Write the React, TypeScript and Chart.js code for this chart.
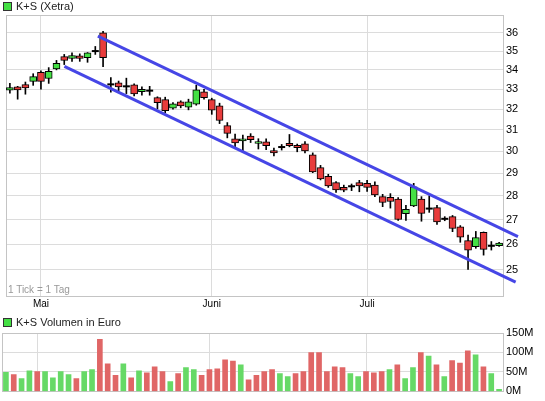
import React, { useEffect, useRef } from 'react';
import { Chart, registerables } from 'chart.js';

Chart.register(...registerables);

// ---- data ----
const opens = [32.96, 33.12, 33.24, 33.4, 33.87, 33.55, 34.05, 34.7, 34.6, 34.75, 34.65, 35.0, 36.0, 33.25, 33.33, 33.15, 33.23, 32.88, 32.93, 32.58, 32.48, 32.05, 32.37, 32.1, 32.25, 32.87, 32.48, 32.17, 31.2, 30.58, 30.48, 30.7, 30.36, 30.43, 30.03, 30.19, 30.36, 30.27, 30.34, 29.83, 29.25, 28.86, 28.58, 28.37, 28.42, 28.58, 28.55, 28.47, 27.97, 27.94, 27.86, 27.24, 27.57, 27.86, 27.46, 27.5, 27.03, 27.12, 26.7, 26.14, 25.89, 26.47, 25.93, 25.93];
const highs = [33.3, 33.15, 33.37, 33.8, 33.95, 34.12, 34.5, 34.82, 34.9, 34.85, 34.92, 35.25, 36.08, 33.6, 33.42, 33.57, 33.28, 33.12, 33.15, 32.62, 32.6, 32.33, 32.42, 32.5, 33.2, 33.0, 32.55, 32.3, 31.35, 30.8, 30.75, 30.82, 30.58, 30.58, 30.14, 30.31, 30.78, 30.33, 30.44, 29.92, 29.35, 28.95, 28.63, 28.47, 28.52, 28.68, 28.68, 28.62, 28.07, 28.1, 27.93, 27.6, 28.55, 27.97, 28.0, 27.6, 27.12, 27.17, 26.75, 26.36, 26.51, 26.49, 26.1, 26.07];
const lows = [32.8, 32.5, 32.75, 33.2, 33.0, 33.3, 34.0, 34.28, 34.45, 34.45, 34.4, 34.82, 34.17, 32.85, 32.87, 32.78, 32.67, 32.7, 32.7, 32.02, 31.83, 32.0, 32.07, 31.97, 32.2, 32.5, 31.75, 31.3, 30.62, 30.17, 29.98, 30.4, 30.1, 30.07, 29.78, 30.05, 30.2, 29.97, 29.92, 29.02, 28.7, 28.37, 28.15, 28.18, 28.23, 28.18, 28.2, 27.97, 27.54, 27.48, 26.96, 26.96, 27.54, 26.93, 27.3, 26.8, 26.95, 26.5, 26.07, 25.0, 25.83, 25.56, 25.76, 25.9];
const closes = [33.08, 32.97, 33.07, 33.65, 33.4, 33.92, 34.35, 34.5, 34.76, 34.6, 34.9, 35.0, 34.65, 33.25, 33.12, 33.15, 32.77, 33.0, 32.93, 32.33, 31.93, 32.27, 32.17, 32.37, 32.97, 32.57, 31.95, 31.45, 30.83, 30.38, 30.58, 30.53, 30.44, 30.25, 29.92, 30.19, 30.25, 30.16, 30.01, 29.06, 28.74, 28.43, 28.26, 28.25, 28.42, 28.44, 28.37, 28.04, 27.72, 27.76, 27.0, 27.43, 28.39, 27.26, 27.46, 26.9, 27.03, 26.63, 26.28, 25.76, 26.26, 25.79, 25.93, 26.04];
const volumes = [49, 43, 33, 53, 51, 51, 35, 51, 43, 33, 51, 56, 134, 71, 41, 71, 35, 53, 48, 63, 51, 25, 46, 61, 56, 41, 56, 58, 81, 78, 68, 30, 41, 51, 56, 46, 38, 46, 51, 100, 100, 51, 63, 61, 46, 38, 51, 48, 51, 56, 68, 33, 61, 100, 91, 68, 38, 79, 73, 104, 94, 63, 46, 5];
const monthLabels = ['Mai', 'Juni', 'Juli'];
const monthIndex = [4, 26, 46];
const priceTicks = [25, 26, 27, 28, 29, 30, 31, 32, 33, 34, 35, 36];
const volumeTicks = [0, 50, 100, 150];
const upperChannel = [{ x: 11.33, y: 35.82 }, { x: 65.43, y: 26.3 }];
const lowerChannel = [{ x: 7.02, y: 34.19 }, { x: 65.13, y: 24.52 }];

// ---- styles ----
const FONT = '"Liberation Sans", Arial, sans-serif';
const GRID = '#dcdcdc';
const FRAME = '#c4c4c4';
const CANDLE_UP = '#44e044';
const CANDLE_DOWN = '#e83c3c';
const VOL_UP = '#66d966';
const VOL_DOWN = '#e06666';
const CHANNEL = '#4646e6';

const framePlugin = {
  id: 'frame',
  beforeDatasetsDraw(chart: any) {
    const { ctx, chartArea: a } = chart;
    ctx.save();
    ctx.strokeStyle = FRAME;
    ctx.lineWidth = 1;
    ctx.strokeRect(Math.round(a.left) + 0.5, Math.round(a.top) + 0.5, Math.round(a.right - a.left), Math.round(a.bottom - a.top));
    ctx.restore();
  },
};

function xScale(showLabels: boolean, height: number) {
  return {
    type: 'linear',
    min: -0.5,
    max: 63.5,
    offset: false,
    afterBuildTicks: (s: any) => {
      s.ticks = monthIndex.map((v) => ({ value: v }));
    },
    afterFit: (s: any) => {
      s.height = height;
    },
    ticks: {
      display: showLabels,
      autoSkip: false,
      maxRotation: 0,
      padding: 2,
      color: '#000',
      font: { family: FONT, size: 10 },
      callback: (v: number) => {
        const k = monthIndex.indexOf(v);
        return k >= 0 ? monthLabels[k] : '';
      },
    },
    grid: { color: GRID, drawTicks: false, offset: false },
    border: { display: false },
  };
}

export default function App() {
  const priceRef = useRef<HTMLCanvasElement>(null);
  const volRef = useRef<HTMLCanvasElement>(null);

  useEffect(() => {
    document.body.style.margin = '0';
    const idx = closes.map((_, i) => i);
    const isDoji = (i: number) => opens[i] === closes[i];

    const priceChart = new Chart(priceRef.current as HTMLCanvasElement, {
      type: 'bar',
      data: {
        datasets: [
          {
            type: 'line',
            data: upperChannel,
            borderColor: CHANNEL,
            borderWidth: 3,
            pointRadius: 0,
            clip: false,
            order: 0,
          } as any,
          {
            type: 'line',
            data: lowerChannel,
            borderColor: CHANNEL,
            borderWidth: 3,
            pointRadius: 0,
            clip: false,
            order: 0,
          } as any,
          {
            type: 'scatter',
            data: idx.filter(isDoji).map((i) => ({ x: i, y: closes[i] })),
            pointStyle: 'line',
            radius: 3.5,
            borderWidth: 2,
            borderColor: '#000',
            backgroundColor: '#000',
            order: 1,
          } as any,
          {
            type: 'bar',
            data: idx.map((i) => ({ x: i, y: isDoji(i) ? null : [opens[i], closes[i]] })),
            backgroundColor: idx.map((i) => (closes[i] >= opens[i] ? CANDLE_UP : CANDLE_DOWN)),
            borderColor: '#000',
            borderWidth: 1,
            borderSkipped: false,
            barThickness: 7,
            grouped: false,
            order: 2,
          } as any,
          {
            type: 'bar',
            data: idx.map((i) => ({ x: i, y: [lows[i], highs[i]] })),
            backgroundColor: '#000',
            borderWidth: 0,
            barThickness: 1,
            grouped: false,
            order: 3,
          } as any,
        ],
      },
      options: {
        animation: false,
        responsive: false,
        devicePixelRatio: 1,
        layout: { padding: { left: 2, top: 15, right: 0, bottom: 0 } },
        plugins: { legend: { display: false }, tooltip: { enabled: false } },
        scales: {
          x: xScale(true, 19) as any,
          y: {
            type: 'logarithmic',
            position: 'right',
            min: 24,
            max: 37,
            afterBuildTicks: (s: any) => {
              s.ticks = priceTicks.map((v) => ({ value: v }));
            },
            afterFit: (s: any) => {
              s.width = 42;
            },
            ticks: {
              autoSkip: false,
              padding: 3,
              color: '#000',
              font: { family: FONT, size: 11 },
              callback: (v: number) => String(v),
            },
            grid: { color: GRID, drawTicks: false },
            border: { display: false },
          } as any,
        },
      },
      plugins: [framePlugin],
    });

    const volChart = new Chart(volRef.current as HTMLCanvasElement, {
      type: 'bar',
      data: {
        datasets: [
          {
            data: idx.map((i) => ({ x: i, y: volumes[i] })),
            backgroundColor: idx.map((i) =>
              closes[i] >= (i === 0 ? opens[0] : closes[i - 1]) ? VOL_UP : VOL_DOWN
            ),
            borderWidth: 0,
            barThickness: 5,
          } as any,
        ],
      },
      options: {
        animation: false,
        responsive: false,
        devicePixelRatio: 1,
        layout: { padding: { left: 2, top: 19, right: 0, bottom: 0 } },
        plugins: { legend: { display: false }, tooltip: { enabled: false } },
        scales: {
          x: xScale(false, 9) as any,
          y: {
            type: 'linear',
            position: 'right',
            min: 0,
            max: 150,
            afterBuildTicks: (s: any) => {
              s.ticks = volumeTicks.map((v) => ({ value: v }));
            },
            afterFit: (s: any) => {
              s.width = 42;
            },
            ticks: {
              autoSkip: false,
              padding: 3,
              color: '#000',
              font: { family: FONT, size: 11 },
              callback: (v: number) => v + 'M',
            },
            grid: { color: GRID, drawTicks: false },
            border: { display: false },
          } as any,
        },
      },
      plugins: [framePlugin],
    });

    return () => {
      priceChart.destroy();
      volChart.destroy();
    };
  }, []);

  const box = (top: number) => ({
    position: 'absolute' as const,
    left: 3,
    top,
    width: 9,
    height: 9,
    boxSizing: 'border-box' as const,
    background: CANDLE_UP,
    border: '1px solid #333',
  });
  const label = (top: number) => ({
    position: 'absolute' as const,
    left: 16,
    top,
    fontFamily: FONT,
    fontSize: 11,
    lineHeight: '13px',
    color: '#222',
    whiteSpace: 'nowrap' as const,
  });

  return (
    <div style={{ position: 'absolute', left: 0, top: 0, width: 545, height: 401, background: '#fff', overflow: 'hidden' }}>
      <canvas ref={priceRef} width={545} height={315} style={{ position: 'absolute', left: 0, top: 0, width: 545, height: 315 }} />
      <canvas ref={volRef} width={545} height={87} style={{ position: 'absolute', left: 0, top: 314, width: 545, height: 87 }} />
      <div style={box(2)} />
      <div style={label(0)}>K+S (Xetra)</div>
      <div style={{ ...label(283), left: 8, fontSize: 10, color: '#999' }}>1 Tick = 1 Tag</div>
      <div style={box(318)} />
      <div style={label(316)}>K+S Volumen in Euro</div>
    </div>
  );
}
